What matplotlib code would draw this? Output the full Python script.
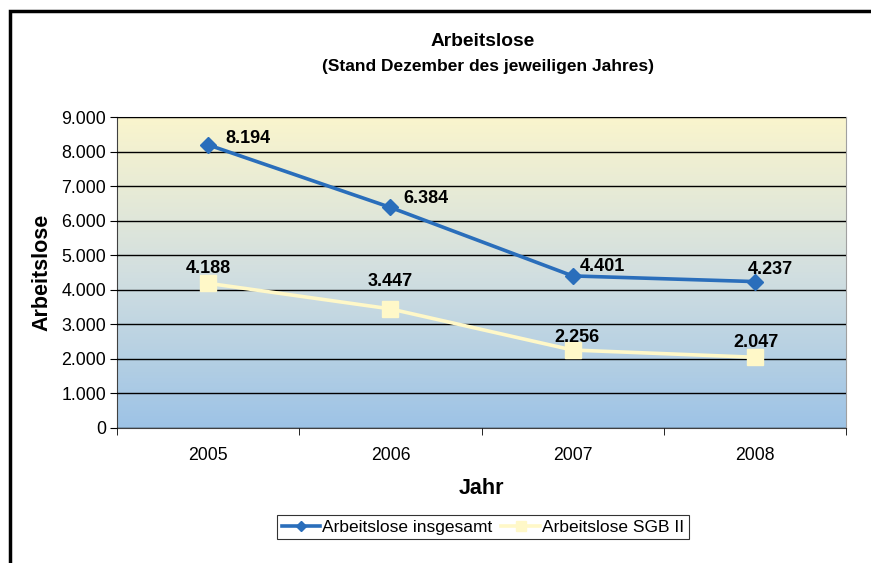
import matplotlib.pyplot as plt
import numpy as np
from matplotlib.colors import LinearSegmentedColormap
from matplotlib.patches import Rectangle

plt.rcParams['font.family'] = ['Liberation Sans', 'DejaVu Sans']

years = ['2005', '2006', '2007', '2008']
gesamt = [8194, 6384, 4401, 4237]
sgb2 = [4188, 3447, 2256, 2047]

def de_fmt(v):
    return f"{v:,.0f}".replace(',', '.')

fig = plt.figure(figsize=(8.71, 5.63), dpi=100)
ax = fig.add_axes([117/871, 1-428/563, (846-117)/871, (428-117)/563])

# gradient plot area: pale yellow at the top, light blue at the bottom
cmap = LinearSegmentedColormap.from_list('bg', ['#9dc3e6', '#d2dfe0', '#faf5cd'])
grad = np.linspace(0, 1, 256).reshape(-1, 1)
ax.imshow(grad, cmap=cmap, aspect='auto', origin='lower',
          extent=[-0.5, 3.5, 0, 9000], zorder=0)

x = np.arange(len(years))
ax.plot(x, gesamt, color='#2a6ebb', lw=2.6, marker='D', ms=8,
        label='Arbeitslose insgesamt', zorder=3)
ax.plot(x, sgb2, color='#fff8c8', lw=2.6, marker='s', ms=11,
        label='Arbeitslose SGB II', zorder=3)

# data labels (pixel offsets from each point)
off_g = [(40, 6), (36, 9), (30, 9), (15, 12)]
off_s = [(0, 15), (0, 27), (4, 13), (1, 15)]
for i in range(len(years)):
    ax.annotate(de_fmt(gesamt[i]), (x[i], gesamt[i]), xytext=off_g[i],
                textcoords='offset pixels', ha='center', va='center',
                fontsize=13, fontweight='bold', zorder=4)
    ax.annotate(de_fmt(sgb2[i]), (x[i], sgb2[i]), xytext=off_s[i],
                textcoords='offset pixels', ha='center', va='center',
                fontsize=13, fontweight='bold', zorder=4)

ax.set_xlim(-0.5, 3.5)
ax.set_ylim(0, 9000)
ax.set_yticks(range(0, 9001, 1000))
ax.set_yticklabels([de_fmt(v) for v in range(0, 9001, 1000)], fontsize=12.8)
ax.yaxis.grid(True, color='black', lw=1)
ax.set_axisbelow(False)
ax.set_xticks(x)
ax.set_xticklabels(years, fontsize=12.7)
ax.set_xticks(np.arange(-0.5, 3.6, 1), minor=True)
ax.tick_params(axis='x', which='major', length=0, pad=14)
ax.tick_params(axis='x', which='minor', length=5, direction='out')
ax.tick_params(axis='y', length=5, direction='out', pad=3)
for s in ['top', 'right']:
    ax.spines[s].set_color('#a0a0a0')
for s in ['left', 'bottom']:
    ax.spines[s].set_color('#404040')

ax.set_xlabel('Jahr', fontsize=15.5, fontweight='bold', labelpad=10)
ax.set_ylabel('Arbeitslose', fontsize=15.5, fontweight='bold', labelpad=6)

fig.text(483/871, 1-42/563, 'Arbeitslose', ha='center', va='center',
         fontsize=13.8, fontweight='bold')
fig.text(488/871, 1-66/563, '(Stand Dezember des jeweiligen Jahres)',
         ha='center', va='center', fontsize=12.5, fontweight='bold')

leg = fig.legend(loc='center', bbox_to_anchor=(483/871, 1-527/563), ncol=2,
                 fontsize=12.5, frameon=True, fancybox=False, handlelength=2.2,
                 handletextpad=0.15, columnspacing=0.5, borderpad=0.25,
                 borderaxespad=0, markerscale=0.7)
leg.get_frame().set_edgecolor('black')
leg.get_frame().set_linewidth(0.8)

# outer chart frame, running off the right and bottom edges
frame = Rectangle((10/871, -0.1), 1.2, (1-11/563) + 0.1,
                  transform=fig.transFigure, fill=False,
                  edgecolor='black', lw=2.5)
fig.patches.append(frame)

fig.savefig('out.png', dpi=100)
